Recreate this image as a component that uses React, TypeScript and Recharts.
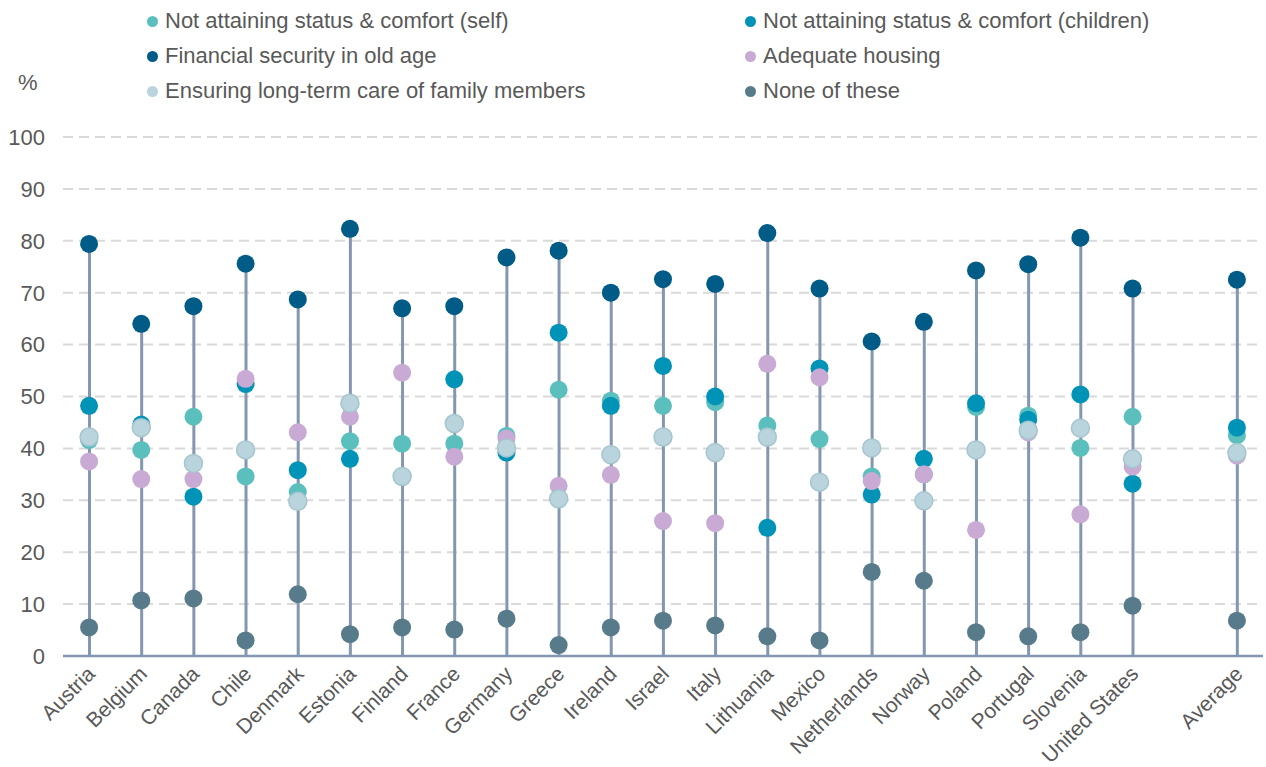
import { ComposedChart, Bar, Line, XAxis, YAxis, CartesianGrid } from "recharts";

const countries = [
  "Austria", "Belgium", "Canada", "Chile", "Denmark", "Estonia", "Finland",
  "France", "Germany", "Greece", "Ireland", "Israel", "Italy", "Lithuania",
  "Mexico", "Netherlands", "Norway", "Poland", "Portugal", "Slovenia",
  "United States", "", "Average",
];

const selfStatus = [41.6, 39.7, 46.1, 34.6, 31.6, 41.4, 40.9, 40.9, 42.4, 51.3, 49.2, 48.2, 48.9, 44.4, 41.8, 34.6, 35.0, 48.0, 46.3, 40.1, 46.1, null, 42.5];
const childrenStatus = [48.2, 44.6, 30.7, 52.4, 35.8, 38.0, 34.5, 53.3, 39.2, 62.3, 48.2, 55.9, 50.0, 24.7, 55.4, 31.1, 38.0, 48.7, 45.5, 50.4, 33.2, null, 44.0];
const oldAge = [79.4, 64.0, 67.4, 75.6, 68.7, 82.3, 67.0, 67.4, 76.8, 78.1, 70.0, 72.6, 71.7, 81.5, 70.8, 60.6, 64.4, 74.3, 75.5, 80.6, 70.8, null, 72.5];
const housing = [37.5, 34.1, 34.1, 53.4, 43.1, 46.1, 54.6, 38.4, 41.9, 32.8, 34.9, 26.0, 25.6, 56.3, 53.7, 33.7, 35.0, 24.3, 43.1, 27.3, 36.5, null, 38.6];
const longTermCare = [42.2, 44.0, 37.1, 39.7, 29.8, 48.7, 34.6, 44.8, 40.1, 30.3, 38.8, 42.2, 39.2, 42.2, 33.5, 40.1, 29.9, 39.7, 43.5, 43.9, 38.0, null, 39.2];
const noneOfThese = [5.5, 10.7, 11.1, 3.0, 11.9, 4.2, 5.5, 5.1, 7.2, 2.1, 5.5, 6.8, 5.9, 3.8, 3.0, 16.2, 14.5, 4.6, 3.8, 4.6, 9.7, null, 6.8];

const yTicks = [0, 10, 20, 30, 40, 50, 60, 70, 80, 90, 100];

const series = [
  { key: "self", name: "Not attaining status & comfort (self)", values: selfStatus, color: "#5bbfbd", stroke: "none" },
  { key: "children", name: "Not attaining status & comfort (children)", values: childrenStatus, color: "#0093b8", stroke: "none" },
  { key: "oldAge", name: "Financial security in old age", values: oldAge, color: "#005b87", stroke: "none" },
  { key: "housing", name: "Adequate housing", values: housing, color: "#c8aad4", stroke: "none" },
  { key: "care", name: "Ensuring long-term care of family members", values: longTermCare, color: "#b9d4dc", stroke: "#a5c5cf" },
  { key: "none", name: "None of these", values: noneOfThese, color: "#587b8b", stroke: "none" },
];

const data = countries.map((country, i) => {
  const row: Record<string, any> = { country };
  const vals: number[] = [];
  series.forEach((s) => {
    row[s.key] = s.values[i];
    if (s.values[i] != null) vals.push(s.values[i] as number);
  });
  row.top = vals.length ? Math.max(...vals) : null;
  return row;
});

const TEXT = "#595959";
const FONT = "'Liberation Sans', Arial, sans-serif";

const CountryTick = (props: any) => {
  const { x, y, payload } = props;
  const tx = x + 2;
  const ty = y + 6;
  return (
    <text
      x={tx}
      y={ty}
      transform={`rotate(-45, ${tx}, ${ty})`}
      textAnchor="end"
      dy="0.35em"
      fontSize={21}
      fill={TEXT}
      fontFamily={FONT}
    >
      {payload.value}
    </text>
  );
};

const legendRows = [
  [series[0], series[1]],
  [series[2], series[3]],
  [series[4], series[5]],
];

export default function App() {
  return (
    <div style={{ position: "absolute", left: 0, top: 0, width: 1266, height: 767, fontFamily: FONT, background: "#fff" }}>
      {legendRows.map((row, r) =>
        row.map((s, c) => (
          <div
            key={s.key}
            style={{
              position: "absolute",
              left: c === 0 ? 147 : 745,
              top: 21 + r * 35 - 13,
              height: 26,
              display: "flex",
              alignItems: "center",
              fontSize: 22,
              color: TEXT,
              whiteSpace: "nowrap",
            }}
          >
            <span
              style={{
                display: "inline-block",
                width: 11,
                height: 11,
                borderRadius: "50%",
                background: s.color,
                marginRight: 7,
              }}
            />
            {s.name}
          </div>
        ))
      )}
      <div style={{ position: "absolute", left: 18, top: 70, fontSize: 22, color: TEXT }}>%</div>
      <ComposedChart
        width={1266}
        height={767}
        data={data}
        margin={{ top: 137, right: 3, bottom: 0, left: 0 }}
      >
        <CartesianGrid vertical={false} stroke="#d9d9d9" strokeWidth={2} strokeDasharray="10 6" />
        <XAxis
          dataKey="country"
          interval={0}
          height={111}
          tickLine={false}
          axisLine={{ stroke: "#8497b0", strokeWidth: 2.5 }}
          tick={<CountryTick />}
        />
        <YAxis
          domain={[0, 100]}
          ticks={yTicks}
          width={63}
          axisLine={false}
          tickLine={false}
          tickMargin={12}
          tick={{ fontSize: 22, fill: TEXT, fontFamily: FONT }}
        />
        <Bar dataKey="top" barSize={3} fill="#8497b0" isAnimationActive={false} />
        {series.map((s) => (
          <Line
            key={s.key}
            dataKey={s.key}
            name={s.name}
            stroke="none"
            isAnimationActive={false}
            activeDot={false}
            dot={{ r: 9, fill: s.color, stroke: s.stroke, strokeWidth: s.stroke === "none" ? 0 : 1.5, fillOpacity: 1 }}
          />
        ))}
      </ComposedChart>
    </div>
  );
}
